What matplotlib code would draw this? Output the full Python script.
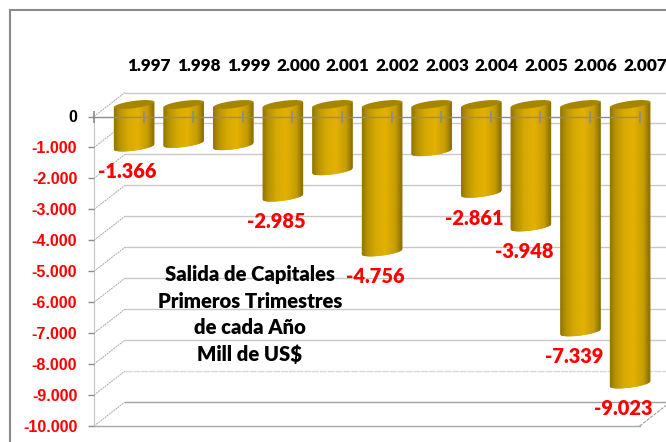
import numpy as np
import matplotlib
matplotlib.use("Agg")
import matplotlib.pyplot as plt
from matplotlib.collections import PolyCollection
from matplotlib.colors import LinearSegmentedColormap
from matplotlib.lines import Line2D

years = ["1.997", "1.998", "1.999", "2.000", "2.001", "2.002", "2.003", "2.004", "2.005", "2.006", "2.007"]
values = [-1366, -1250, -1323, -2985, -2133, -4756, -1518, -2861, -3948, -7339, -9023]
show_label = [True, False, False, True, False, True, False, True, True, True, True]
y_ticks = [0, -1000, -2000, -3000, -4000, -5000, -6000, -7000, -8000, -9000, -10000]
title_lines = ["Salida de Capitales", "Primeros Trimestres", "de cada Año", "Mill de US$"]

W, H = 666, 442
fig = plt.figure(figsize=(W / 100, H / 100), dpi=100, facecolor="white")
L, R, T, B = 94, 639.6, 116.5, 426
ax = fig.add_axes([L / W, 1 - B / H, (R - L) / W, (B - T) / H])
ax.set_facecolor("none")
PX_X = 11 / (R - L)          # category units per pixel
PX_Y = 10000 / (B - T)       # value units per pixel


def fmt(v):
    return f"{v:,}".replace(",", ".")


# depth of the 3D box, in pixels
DX, DY = 31, 24
for v in y_ticks:
    bad = v == -10000
    dashed = v == -9000
    ax.plot([-0.5 + DX * PX_X, 10.5 + 27 * PX_X], [v + DY * PX_Y] * 2, clip_on=False, zorder=1,
            color="#a0a0a0" if bad else ("#d8d8d8" if dashed else "#c8c8c8"), lw=1.0,
            ls=(0, (5, 0.6)) if dashed else "-")
    ax.plot([-0.5, -0.5 + DX * PX_X], [v, v + DY * PX_Y], clip_on=False, zorder=1,
            color="#a8a8a8", lw=0.7, ls=(0, (2, 0.8)))
ax.plot([10.5, 10.5 + 27 * PX_X], [-10000, -10000 + 21 * PX_Y], clip_on=False, zorder=1,
        color="#a0a0a0", lw=0.8, ls=(0, (3, 1)))

# cylinders
cmap = LinearSegmentedColormap.from_list("gold", [
    (0, "#8f7300"), (0.15, "#b89200"), (0.35, "#d5a900"), (0.6, "#e4b000"),
    (0.85, "#c49b00"), (1, "#8a6e00")])
RAD, TILT, BULGE, SHIFT, TOP_PX = 20, 2.6, 3.6, 15.3, 104.5 - T
N = 60
for i, v in enumerate(values):
    cx = i + SHIFT * PX_X
    u = np.linspace(-1, 1, N + 1)
    xs = cx + u * RAD * PX_X
    top_c = -TOP_PX * PX_Y
    polys, cols = [], []
    for k in range(N):
        uu = u[k:k + 2]
        xx = xs[k:k + 2]
        low = v + top_c + (TILT * uu - BULGE * np.sqrt(1 - uu ** 2)) * PX_Y
        up = top_c + TILT * uu * PX_Y
        polys.append([(xx[0], up[0]), (xx[1], up[1]), (xx[1], low[1]), (xx[0], low[0])])
        cols.append(cmap((k + 0.5) / N))
    ax.add_collection(PolyCollection(polys, facecolors=cols, edgecolors="face", linewidths=0.4,
                                     clip_on=False, zorder=2), autolim=False)
    t = np.linspace(0, 2 * np.pi, 80)
    ex = cx + RAD * np.cos(t) * PX_X
    ey = top_c + (TILT * np.cos(t) + BULGE * np.sin(t)) * PX_Y
    ax.fill(ex, ey, color="#a68500", clip_on=False, zorder=2.5, lw=0)

# axes furniture
for s in ("right", "bottom"):
    ax.spines[s].set_visible(False)
ax.spines["left"].set_color("#c4c4c4")
ax.spines["left"].set_linewidth(0.8)
ax.spines["top"].set_color("#8c8c8c")
ax.spines["top"].set_linewidth(1.0)
ax.spines["top"].set_zorder(3)
ax.plot([-0.5, 10.5], [-10000, -10000], color="#a8a8a8", lw=1.0, clip_on=False, zorder=1)

ax.set_yticks(y_ticks)
ax.set_yticklabels(["0" if v == 0 else fmt(v) for v in y_ticks],
                   family="Liberation Sans", fontweight="bold", fontsize=11.6)
for lbl, v in zip(ax.get_yticklabels(), y_ticks):
    lbl.set_color("black" if v == 0 else "#ff0000")
ax.tick_params(axis="y", length=4, width=1, color="#8c8c8c", pad=8)

ax.xaxis.tick_top()
ax.set_xticks(np.arange(-0.5, 11), labels=[])
ax.tick_params(axis="x", which="major", direction="inout", length=8.6, width=1.2, color="#8c8c8c")
ax.set_axisbelow(False)
ax.set_xlim(-0.5, 10.5)
ax.set_ylim(-10000, 0)

# category labels sit above the back of the box
for i, yr in enumerate(years):
    ax.annotate(yr, (i + 30.5 * PX_X, 0), xytext=(0, 50.5 * 0.72), textcoords="offset points",
                ha="center", va="center", family="Lato", fontweight=800, fontsize=12.3,
                color="black", annotation_clip=False, zorder=4)

# value labels
for i, (v, show) in enumerate(zip(values, show_label)):
    if show:
        ax.annotate(fmt(v), (i + SHIFT * PX_X, v - TOP_PX * PX_Y), xytext=(-6.5 * 0.72, -25 * 0.72),
                    textcoords="offset points", ha="center", va="center", color="#ff0000",
                    family="Lato", fontweight=800, fontsize=14.4, annotation_clip=False, zorder=4)

# caption
for line, py in zip(title_lines, [274, 301, 328, 354]):
    fig.text(250 / W, 1 - py / H, line, ha="center", va="center", family="Lato",
             fontweight=800, fontsize=14.6, color="black")

# chart frame
frame = "#8a8a8a"
fig.add_artist(Line2D([10.5 / W, 10.5 / W], [0, 1 - 10 / H], color=frame, lw=1.5))
fig.add_artist(Line2D([10 / W, 1], [1 - 10 / H, 1 - 10 / H], color=frame, lw=1.5))

fig.savefig("out.png", dpi=100)
